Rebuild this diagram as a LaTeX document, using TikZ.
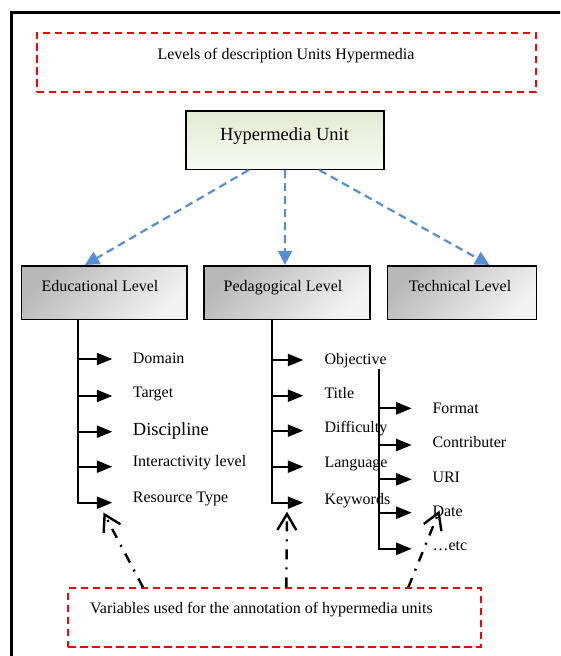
\documentclass[tikz,border=0pt]{standalone}
\usepackage{fontspec}
\setmainfont{Liberation Serif}
\usetikzlibrary{arrows.meta}
\definecolor{dashred}{RGB}{255,0,0}
\definecolor{linkblue}{RGB}{85,142,213}
\definecolor{unitgreenA}{RGB}{226,235,210}
\definecolor{unitgreenB}{RGB}{248,250,242}

\begin{document}
\begin{tikzpicture}[x=1pt,y=-1pt,
  txt/.style={font=\fontsize{16}{19}\selectfont, inner sep=0pt},
  bigtxt/.style={font=\fontsize{18.5}{22}\selectfont, inner sep=0pt},
  redbox/.style={draw=dashred, line width=2pt, dash pattern=on 7.5pt off 4.5pt, rectangle, inner sep=0pt},
  unitbox/.style={draw=black, line width=1.6pt, top color=unitgreenA, bottom color=unitgreenB, inner sep=0pt},
  levelbox/.style={draw=black, line width=1.6pt, top color=black!28, bottom color=black!5, shading angle=45, inner sep=0pt},
  link/.style={draw=linkblue, line width=2.2pt, dash pattern=on 8pt off 5pt, -{Triangle[length=14pt,width=14pt]}},
  tarrow/.style={line width=2.2pt, -{Triangle[length=15.5pt,width=12pt]}},
  annot/.style={line width=2.4pt, dash pattern=on 10pt off 8pt on 2pt off 8pt, -{Straight Barb[length=16pt,width=19pt]}},
]
\useasboundingbox (0,0) rectangle (560,656);

% outer frame, running off the page at right and bottom
\begin{scope}
  \clip (0,0) rectangle (560,656);
  \draw[line width=3pt] (11.5,700) -- (11.5,12.2) -- (600,12.2);
\end{scope}

% headline
\node[redbox, minimum width=499.3pt, minimum height=59pt] (title) at (286.35,62.2) {};
\node[txt, anchor=base] (titletext) at (286,59.3) {Levels of description Units Hypermedia};

% root unit
\node[unitbox, minimum width=198.3pt, minimum height=58.3pt] (unit) at (284.85,140.15) {};
\node[font=\fontsize{18.5}{22}\selectfont, inner sep=0pt, anchor=base] (unittext) at (284.5,140) {Hypermedia Unit};

% three levels
\node[levelbox, minimum width=165.4pt, minimum height=53.6pt] (edu) at (104,292.5) {};
\node[levelbox, minimum width=166pt, minimum height=53.6pt] (ped) at (286.7,292.5) {};
\node[levelbox, minimum width=149pt, minimum height=53.6pt] (tech) at (461.8,292.5) {};
\node[txt, anchor=base] (edutext) at (100,291) {Educational Level};
\node[txt, anchor=base] (pedtext) at (283,291) {Pedagogical Level};
\node[txt, anchor=base] (techtext) at (460,291) {Technical Level};

\draw[link] ([xshift=-36.2pt]unit.south) -- ([xshift=-19pt]edu.north);
\draw[link] ([xshift=0.2pt]unit.south) -- ([xshift=-1.7pt]ped.north);
\draw[link] ([xshift=34.5pt]unit.south) -- ([xshift=27.5pt]tech.north);

% item labels
\node[txt, anchor=base west] (e1) at (132.7,363.3) {Domain};
\node[txt, anchor=base west] (e2) at (132.7,397.3) {Target};
\node[bigtxt, anchor=base west] (e3) at (132.7,435) {Discipline};
\node[txt, anchor=base west] (e4) at (132.7,466.7) {Interactivity level};
\node[txt, anchor=base west] (e5) at (132.7,502.7) {Resource Type};

\node[txt, anchor=base west] (p1) at (324.3,364) {Objective};
\node[txt, anchor=base west] (p2) at (324.3,398.3) {Title};
\node[txt, anchor=base west] (p3) at (324.3,432.7) {Difficulty};
\node[txt, anchor=base west] (p4) at (324.3,467.7) {Language};
\node[txt, anchor=base west] (p5) at (324.3,504) {Keywords};

\node[txt, anchor=base west] (t1) at (432.3,413.3) {Format};
\node[txt, anchor=base west] (t2) at (432.3,447.3) {Contributer};
\node[txt, anchor=base west] (t3) at (432.3,482.3) {URI};
\node[txt, anchor=base west] (t4) at (432.3,516.7) {Date};
\node[txt, anchor=base west] (t5) at (432.3,550) {\ldots etc};

% educational branches
\coordinate (eb1) at (78.3,359);
\coordinate (eb2) at (78.3,396);
\coordinate (eb3) at (78.3,431.7);
\coordinate (eb4) at (78.3,466.7);
\coordinate (eb5) at (78.3,502.7);
\draw[tarrow] (edu.south -| eb5) -- (eb5) -- ++(34,0);
\foreach \i in {1,...,4} \draw[tarrow] (eb\i) -- ++(34,0);

% pedagogical branches
\coordinate (pb1) at (271.7,360);
\coordinate (pb2) at (271.7,395.7);
\coordinate (pb3) at (271.7,430.7);
\coordinate (pb4) at (271.7,466.7);
\coordinate (pb5) at (271.7,502.7);
\draw[tarrow] (ped.south -| pb5) -- (pb5) -- ++(31.6,0);
\foreach \i in {1,...,4} \draw[tarrow] (pb\i) -- ++(31.6,0);

% technical branches
\coordinate (tbtop) at (379.3,369.3);
\coordinate (tb1) at (379.3,408.3);
\coordinate (tb2) at (379.3,445);
\coordinate (tb3) at (379.3,479.3);
\coordinate (tb4) at (379.3,512.7);
\coordinate (tb5) at (379.3,548.8);
\draw[tarrow] (tbtop) -- (tb5) -- ++(32.4,0);
\foreach \i in {1,...,4} \draw[tarrow] (tb\i) -- ++(32.4,0);

% annotation box and its pointers
\node[redbox, minimum width=412.7pt, minimum height=58.4pt] (vars) at (274.65,617.5) {};
\node[txt, anchor=base west] (varstext) at (90,613.3) {Variables used for the annotation of hypermedia units};

\coordinate (a1) at (103.5,512.5);
\coordinate (a2) at (287,511.7);
\coordinate (a3) at (439.5,510.5);
\draw[annot] ([xshift=75.7pt]vars.north west) -- (a1);
\draw[annot] ([xshift=219pt]vars.north west) -- (a2);
\draw[annot] ([xshift=341pt]vars.north west) -- (a3);

\end{tikzpicture}
\end{document}
